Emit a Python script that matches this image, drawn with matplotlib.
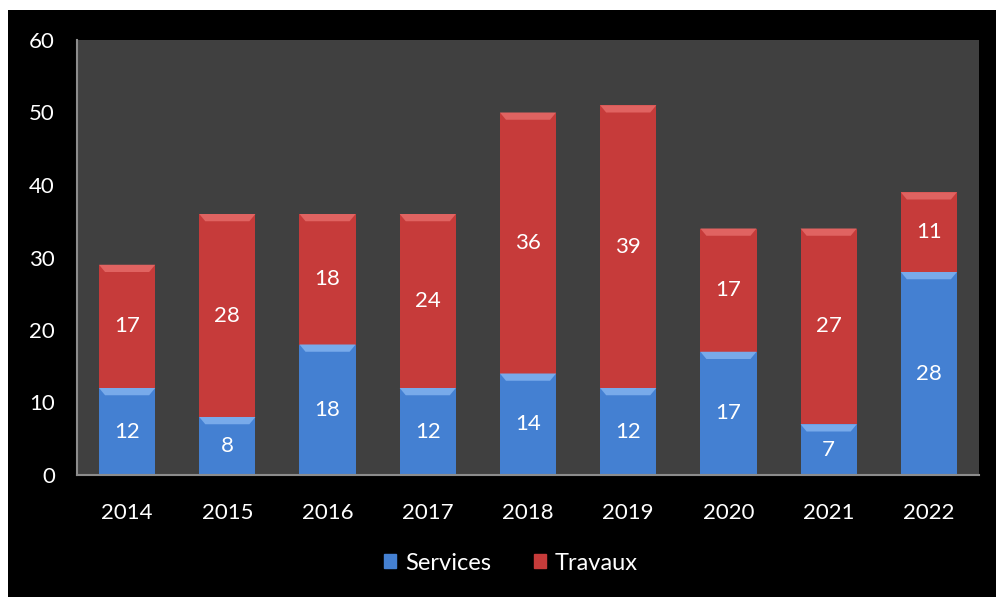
import matplotlib
matplotlib.use("Agg")
import matplotlib.pyplot as plt
from matplotlib.patches import Rectangle, Polygon
import numpy as np

years = ["2014", "2015", "2016", "2017", "2018", "2019", "2020", "2021", "2022"]
services = [12, 8, 18, 12, 14, 12, 17, 7, 28]
travaux = [17, 28, 18, 24, 36, 39, 17, 27, 11]

plt.rcParams['font.family'] = ['Lato', 'DejaVu Sans']

fig = plt.figure(figsize=(9.96, 5.97), dpi=100, facecolor='white')
# black panel with thin white margin top/left
fig.patches.append(Rectangle((8 / 996, 0), 1, 1 - 10 / 597, transform=fig.transFigure,
                             facecolor='black', edgecolor='none', zorder=-1))

ax = fig.add_axes([77 / 996, 1 - 475 / 597, (979 - 77) / 996, (475 - 40) / 597])
ax.set_facecolor('#404040')

x = np.arange(len(years))
w = 0.56
blue = '#4480d2'
red = '#c63b3a'
b1 = ax.bar(x, services, w, color=blue, zorder=2)
b2 = ax.bar(x, travaux, w, bottom=services, color=red, zorder=2)

# bevel on top of each segment
for bars, col in ((b1, '#78aaea'), (b2, '#e06361')):
    for r in bars:
        x0, x1 = r.get_x(), r.get_x() + r.get_width()
        top = r.get_y() + r.get_height()
        ax.add_patch(Polygon([(x0, top), (x1, top), (x1 - 0.06, top - 1.0), (x0 + 0.06, top - 1.0)],
                             closed=True, facecolor=col, edgecolor='none', zorder=3))

for i in range(len(years)):
    ax.text(x[i], services[i] / 2, str(services[i]), ha='center', va='center',
            color='white', fontsize=16, zorder=4)
    ax.text(x[i], services[i] + travaux[i] / 2, str(travaux[i]), ha='center', va='center',
            color='white', fontsize=16, zorder=4)

ax.set_xlim(-0.5, len(years) - 0.5)
ax.set_ylim(0, 60)
ax.set_yticks(range(0, 61, 10))
ax.set_xticks(x)
ax.set_xticklabels(years)
ax.tick_params(axis='both', colors='white', labelsize=16, length=0)
ax.tick_params(axis='y', pad=16)
ax.tick_params(axis='x', pad=20)
for s in ('top', 'right'):
    ax.spines[s].set_visible(False)
for s in ('left', 'bottom'):
    ax.spines[s].set_color('#8c8c8c')
    ax.spines[s].set_linewidth(1.5)

handles = [Rectangle((0, 0), 1, 1, color=blue), Rectangle((0, 0), 1, 1, color=red)]
leg = fig.legend(handles, ['Services', 'Travaux'], loc='center', bbox_to_anchor=(511 / 996, 1 - 563 / 597),
                 ncol=2, frameon=False, fontsize=17, handlelength=0.5, handleheight=0.5,
                 handletextpad=0.4, columnspacing=1.8)
for t in leg.get_texts():
    t.set_color('white')

fig.savefig('out.png', dpi=100, facecolor=fig.get_facecolor())
